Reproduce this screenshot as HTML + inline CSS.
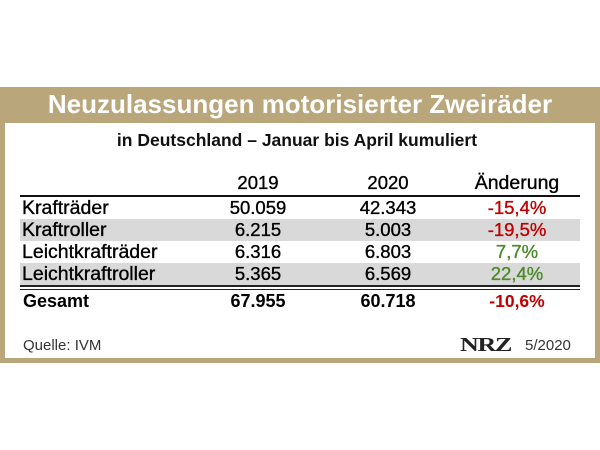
<!DOCTYPE html>
<html><head><meta charset="utf-8"><style>
body{margin:0;width:600px;height:450px;background:#fff;font-family:"Liberation Sans",sans-serif;position:relative;overflow:hidden}
.a{position:absolute}
.c{position:absolute;transform:translateX(-50%);white-space:nowrap}
.t{-webkit-text-stroke:0.35px currentColor}
</style></head><body>
<div class="a" style="left:0;top:87px;width:600px;height:276px;background:#b9a67a"></div>
<div class="a" style="left:5px;top:123px;width:590px;height:235px;background:#fff"></div>
<div class="c" style="left:300px;top:89px;font-size:26px;font-weight:bold;color:#fff">Neuzulassungen motorisierter Zweiräder</div>
<div class="c" style="left:297px;top:130px;font-size:17.5px;font-weight:bold;color:#111">in Deutschland – Januar bis April kumuliert</div>
<div class="c t" style="left:258px;top:172px;font-size:18.5px;line-height:22px">2019</div>
<div class="c t" style="left:388px;top:172px;font-size:18.5px;line-height:22px">2020</div>
<div class="c t" style="left:517px;top:172px;font-size:19.5px;line-height:22px">Änderung</div>
<div class="a" style="left:20px;top:195px;width:560px;height:2px;background:#111"></div>
<div id="rows"></div>
<div class="a" style="left:20px;top:285px;width:560px;height:2px;background:#222"></div>
<div class="a" style="left:20px;top:289px;width:560px;height:1px;background:#222"></div>
<div class="a" style="left:23px;top:290px;font-size:18px;line-height:22px;font-weight:bold">Gesamt</div>
<div class="c" style="left:258px;top:290px;font-size:18px;line-height:22px;font-weight:bold">67.955</div>
<div class="c" style="left:388px;top:290px;font-size:18px;line-height:22px;font-weight:bold">60.718</div>
<div class="c" style="left:517px;top:290px;font-size:17.5px;line-height:22px;font-weight:bold;color:#c00000">-10,6%</div>
<div class="a" style="left:23px;top:337px;font-size:15px;color:#333">Quelle: IVM</div>
<div class="a" style="left:460px;top:334px;font-size:20px;font-weight:bold;font-family:'Liberation Serif',serif;transform:scaleX(1.3);transform-origin:left;letter-spacing:-1px;color:#222">NRZ</div>
<div class="a" style="left:525px;top:337px;font-size:15px;color:#333">5/2020</div>
<script>
const labels=["Krafträder","Kraftroller","Leichtkrafträder","Leichtkraftroller"];
const v2019=["50.059","6.215","6.316","5.365"];
const v2020=["42.343","5.003","6.803","6.569"];
const changes=["-15,4%","-19,5%","7,7%","22,4%"];
const root=document.getElementById('rows');
labels.forEach((l,i)=>{
 const top=197+i*22;
 const r=document.createElement('div');
 
 
 r.className='a';
 r.style.cssText=`left:20px;top:${top}px;width:560px;height:22px;background:${i%2?'#d9d9d9':'transparent'}`;
 root.appendChild(r);
 const mk=(txt,x,center,color,name,fs)=>{const d=document.createElement('div');
  
  
  d.className=(center?'c':'a')+' t';d.textContent=txt;
  d.style.cssText=`left:${x}px;top:${top}px;line-height:22px;font-size:${fs}px;color:${color}`;root.appendChild(d);};
 mk(l,22,false,'#000','row-label',19.5);
 mk(v2019[i],258,true,'#000','value-2019',18.5);
 mk(v2020[i],388,true,'#000','value-2020',18.5);
 const neg=changes[i].startsWith('-');
 mk(changes[i],517,true,neg?'#c00000':'#4a8a2a','value-change',18.5);
});
</script>
</body></html>
